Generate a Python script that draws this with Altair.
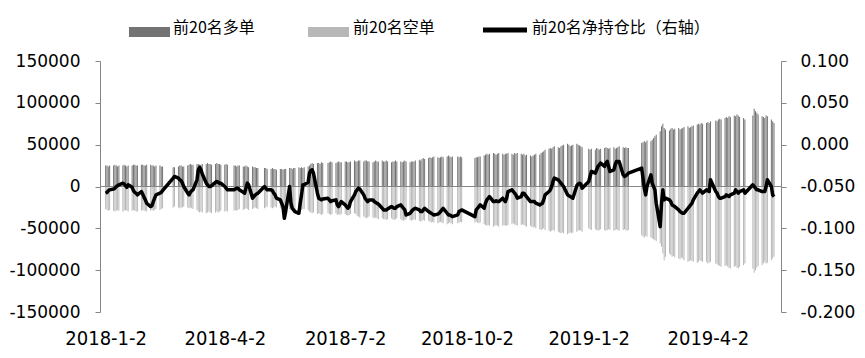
import altair as alt
import pandas as pd

# Trading days shown (month, days)
MONTH_DAYS = [
    ("2018-01", [2, 3, 4, 5, 8, 9, 10, 11, 12, 15, 16, 17, 18, 19, 22, 23, 24, 25, 26, 29, 30, 31]),
    ("2018-02", [1, 2, 5, 6, 7, 8, 9, 12, 13, 14, 22, 23, 26, 27, 28]),
    ("2018-03", [1, 2, 5, 6, 7, 8, 9, 12, 13, 14, 15, 16, 19, 20, 21, 22, 23, 26, 27, 28, 29, 30]),
    ("2018-04", [2, 3, 4, 9, 10, 11, 12, 13, 16, 17, 18, 19, 20, 23, 24, 25, 26, 27]),
    ("2018-05", [2, 3, 4, 7, 8, 9, 10, 11, 14, 15, 16, 17, 18, 21, 22, 23, 24, 25, 28, 29, 30, 31]),
    ("2018-06", [1, 4, 5, 6, 7, 8, 11, 12, 13, 14, 15, 19, 20, 21, 22, 25, 26, 27, 28, 29]),
    ("2018-07", [2, 3, 4, 5, 6, 9, 10, 11, 12, 13, 16, 17, 18, 19, 20, 23, 24, 25, 26, 27, 30, 31]),
    ("2018-08", [1, 2, 3, 6, 7, 8, 9, 10, 13, 14, 15, 16, 17, 20, 21, 22, 23, 24, 27, 28, 29, 30, 31]),
    ("2018-09", [3, 4, 5, 6, 7, 10, 11, 12, 13, 14, 17, 18, 19, 20, 21, 25, 26, 27, 28]),
    ("2018-10", [8, 9, 10, 11, 12, 15, 16, 17, 18, 19, 22, 23, 24, 25, 26, 29, 30, 31]),
    ("2018-11", [1, 2, 5, 6, 7, 8, 9, 12, 13, 14, 15, 16, 19, 20, 21, 22, 23, 26, 27, 28, 29, 30]),
    ("2018-12", [3, 4, 5, 6, 7, 10, 11, 12, 13, 14, 17, 18, 19, 20, 21, 24, 25, 26, 27, 28]),
    ("2019-01", [2, 3, 4, 7, 8, 9, 10, 11, 14, 15, 16, 17, 18, 21, 22, 23, 24, 25, 28, 29, 30, 31]),
    ("2019-02", [1, 11, 12, 13, 14, 15, 18, 19, 20, 21, 22, 25, 26, 27, 28]),
    ("2019-03", [1, 4, 5, 6, 7, 8, 11, 12, 13, 14, 15, 18, 19, 20, 21, 22, 25, 26, 27, 28, 29]),
    ("2019-04", [1, 2, 3, 4, 8, 9, 10, 11, 12, 15, 16, 17, 18, 19, 22, 23, 24, 25, 26, 29, 30]),
    ("2019-05", [6, 7, 8, 9, 10, 13, 14, 15, 16, 17, 20, 21, 22]),
]

# Top-20 long positions (thousand lots), one value per trading day
LONG_K = [
    25, 25, 24, 25, 25, 26, 25, 24, 25, 25, 26, 25, 24, 25, 25, 26, 26, 25, 25, 26, 26, 25,
    25, 26, 26, 25, 25, 24, 25, 25, 24, 24, 23, 23, 24, 25, 25,
    24, 24, 25, 26, 27, 26, 26, 27, 27, 26, 26, 27, 27, 28, 27, 27, 26, 27, 28, 27, 27, 26,
    26, 27, 26, 25, 25, 24, 25, 25, 24, 24, 25, 24, 23, 24, 23, 23, 22, 22,
    22, 22, 21, 21, 22, 21, 21, 20, 21, 21, 20, 21, 21, 22, 22, 21, 22, 22, 23, 22, 23, 22,
    23, 24, 25, 27, 28, 27, 28, 28, 27, 29, 28, 28, 29, 30, 29, 28, 29, 30, 29, 29,
    30, 30, 29, 29, 30, 31, 30, 30, 31, 31, 30, 31, 31, 30, 30, 29, 30, 31, 30, 30, 31, 30,
    30, 31, 30, 29, 30, 30, 31, 30, 30, 29, 30, 31, 30, 29, 30, 30, 30, 31, 32, 31, 33, 34, 33,
    34, 35, 34, 35, 36, 35, 34, 35, 36, 35, 36, 37, 36, 35, 36, 36, 35, 36, 35,
    34, 35, 35, 36, 36, 37, 38, 39, 38, 39, 40, 39, 38, 39, 40, 39, 38, 39,
    39, 40, 39, 38, 40, 39, 40, 39, 38, 39, 37, 38, 37, 36, 37, 38, 39, 38, 40, 41, 42, 44,
    45, 46, 45, 47, 48, 47, 46, 48, 49, 50, 51, 50, 48, 49, 50, 51, 50, 49, 48, 47,
    45, 44, 45, 44, 46, 45, 44, 45, 46, 47, 46, 45, 46, 47, 45, 46, 47, 48, 47, 46, 47, 46,
    46, 52, 53, 54, 53, 55, 54, 56, 58, 60, 62, 66, 72, 75, 70,
    68, 67, 69, 70, 68, 69, 70, 68, 69, 70, 71, 72, 70, 71, 72, 73, 74, 75, 74, 76, 75,
    76, 77, 76, 78, 79, 78, 80, 81, 80, 82, 83, 82, 84, 83, 85, 84, 86, 85, 83, 82, 80,
    85, 93, 90, 88, 86, 84, 83, 82, 85, 84, 80, 78, 76,
]

# Top-20 short positions (thousand lots, negative)
SHORT_K = [
    -27, -28, -29, -28, -29, -30, -29, -28, -29, -30, -29, -28, -29, -30, -29, -28, -29, -30, -30, -29, -28, -29,
    -29, -30, -29, -28, -29, -28, -27, -28, -27, -26, -25, -24, -25, -26, -25,
    -25, -24, -25, -26, -25, -26, -27, -28, -30, -31, -30, -31, -32, -31, -30, -31, -32, -31, -30, -31, -30, -29,
    -30, -29, -30, -29, -28, -29, -28, -27, -28, -27, -26, -27, -28, -27, -26, -25, -26, -27,
    -26, -25, -24, -25, -26, -25, -24, -25, -26, -27, -28, -29, -28, -27, -28, -29, -28, -29, -30, -29, -28, -27,
    -27, -28, -30, -31, -32, -31, -33, -32, -33, -34, -33, -32, -33, -34, -33, -32, -34, -33, -34, -33,
    -33, -34, -35, -34, -33, -32, -33, -35, -36, -37, -36, -37, -38, -37, -36, -37, -38, -37, -38, -39, -38, -39,
    -39, -40, -39, -38, -39, -40, -39, -38, -39, -40, -41, -40, -39, -40, -41, -40, -39, -40, -41, -42, -41, -40, -41,
    -41, -42, -43, -42, -43, -44, -43, -42, -43, -44, -45, -44, -43, -44, -45, -44, -43, -42, -43,
    -43, -42, -43, -44, -43, -45, -46, -47, -46, -47, -48, -47, -46, -47, -48, -47, -46, -47,
    -47, -46, -45, -44, -45, -46, -47, -46, -45, -46, -47, -48, -47, -48, -49, -48, -50, -51, -52, -51, -50, -52,
    -53, -54, -53, -52, -53, -54, -55, -56, -55, -56, -57, -56, -55, -56, -55, -54, -53, -52, -53, -54,
    -50, -51, -52, -51, -52, -53, -52, -51, -52, -53, -52, -51, -52, -53, -52, -51, -52, -53, -52, -51, -52, -53,
    -52, -58, -60, -61, -59, -60, -61, -62, -63, -64, -65, -68, -72, -80, -88,
    -84, -80, -82, -84, -83, -85, -86, -87, -85, -86, -88, -90, -89, -88, -89, -90, -91, -90, -88, -89, -90,
    -90, -92, -91, -90, -92, -93, -94, -95, -96, -95, -94, -96, -97, -98, -96, -95, -97, -98, -96, -94, -92,
    -98, -103, -100, -97, -95, -94, -92, -90, -92, -91, -88, -86, -84,
]

# Net position ratio (right axis)
NET_RATIO = [
    -0.058, -0.057, -0.055, -0.054, -0.053, -0.052, -0.050, -0.049, -0.048, -0.046, -0.047, -0.049, -0.051, -0.048, -0.051, -0.055, -0.057, -0.058, -0.060, -0.056, -0.059, -0.063,
    -0.066, -0.070, -0.074, -0.073, -0.068, -0.064, -0.060, -0.058, -0.057, -0.055, -0.040, -0.038, -0.040, -0.042, -0.043,
    -0.046, -0.050, -0.058, -0.060, -0.057, -0.055, -0.054, -0.042, -0.030, -0.027, -0.030, -0.035, -0.046, -0.048, -0.050, -0.050, -0.049, -0.045, -0.044, -0.045, -0.046, -0.046,
    -0.050, -0.052, -0.054, -0.054, -0.053, -0.052, -0.052, -0.054, -0.057, -0.058, -0.052, -0.046, -0.048, -0.064, -0.062, -0.060, -0.059, -0.058,
    -0.050, -0.052, -0.054, -0.054, -0.055, -0.058, -0.060, -0.064, -0.066, -0.070, -0.074, -0.088, -0.080, -0.050, -0.070, -0.076, -0.078, -0.080, -0.082, -0.070, -0.060, -0.048,
    -0.048, -0.045, -0.034, -0.031, -0.030, -0.034, -0.058, -0.064, -0.065, -0.066, -0.065, -0.064, -0.066, -0.068, -0.067, -0.066, -0.072, -0.074, -0.071, -0.068,
    -0.072, -0.074, -0.076, -0.074, -0.068, -0.060, -0.056, -0.054, -0.052, -0.053, -0.060, -0.064, -0.066, -0.068, -0.066, -0.066, -0.068, -0.069, -0.070, -0.071, -0.076, -0.078,
    -0.078, -0.078, -0.077, -0.074, -0.075, -0.076, -0.076, -0.074, -0.072, -0.074, -0.076, -0.078, -0.084, -0.082, -0.080, -0.078, -0.077, -0.076, -0.078, -0.080, -0.080, -0.078, -0.076,
    -0.080, -0.081, -0.082, -0.083, -0.084, -0.083, -0.082, -0.080, -0.078, -0.076, -0.082, -0.084, -0.084, -0.085, -0.086, -0.084, -0.080, -0.079, -0.078,
    -0.086, -0.078, -0.076, -0.074, -0.072, -0.076, -0.070, -0.066, -0.064, -0.062, -0.068, -0.068, -0.067, -0.068, -0.068, -0.064, -0.066, -0.068,
    -0.064, -0.056, -0.054, -0.056, -0.058, -0.060, -0.064, -0.062, -0.058, -0.058, -0.060, -0.062, -0.068, -0.068, -0.068, -0.068, -0.070, -0.072, -0.071, -0.070, -0.066, -0.060,
    -0.056, -0.054, -0.050, -0.044, -0.040, -0.042, -0.044, -0.046, -0.048, -0.050, -0.060, -0.061, -0.062, -0.063, -0.064, -0.049, -0.047, -0.046, -0.047, -0.052,
    -0.044, -0.038, -0.032, -0.034, -0.030, -0.026, -0.024, -0.022, -0.026, -0.022, -0.020, -0.026, -0.032, -0.030, -0.024, -0.020, -0.020, -0.020, -0.036, -0.038, -0.037, -0.036,
    -0.034, -0.028, -0.040, -0.052, -0.060, -0.050, -0.036, -0.046, -0.050, -0.054, -0.070, -0.098, -0.070, -0.054, -0.066,
    -0.064, -0.066, -0.068, -0.072, -0.073, -0.074, -0.078, -0.080, -0.081, -0.082, -0.082, -0.076, -0.074, -0.072, -0.070, -0.066, -0.058, -0.056, -0.054, -0.056, -0.058,
    -0.054, -0.055, -0.056, -0.042, -0.056, -0.058, -0.062, -0.064, -0.064, -0.062, -0.060, -0.061, -0.062, -0.060, -0.058, -0.054, -0.056, -0.058, -0.056, -0.054, -0.058,
    -0.048, -0.050, -0.052, -0.054, -0.054, -0.056, -0.056, -0.056, -0.050, -0.042, -0.050, -0.060, -0.062,
]

LEGEND_LABELS = ["前20名多单", "前20名空单", "前20名净持仓比（右轴）"]
LEFT_TICKS = [-150000, -100000, -50000, 0, 50000, 100000, 150000]
RIGHT_TICKS = [-0.2, -0.15, -0.1, -0.05, 0.0, 0.05, 0.1]
X_TICKS = [(2018, 1, 2), (2018, 4, 2), (2018, 7, 2), (2018, 10, 2), (2019, 1, 2), (2019, 4, 2)]

dates = [f"{m}-{d:02d}" for m, ds in MONTH_DAYS for d in ds]
assert len(dates) == len(LONG_K) == len(SHORT_K) == len(NET_RATIO), (len(dates), len(LONG_K), len(SHORT_K), len(NET_RATIO))

df = pd.DataFrame({
    "date": dates,
    "long": [v * 1000 for v in LONG_K],
    "short": [v * 1000 for v in SHORT_K],
    "ratio": NET_RATIO,
})

AXIS_GRAY = "#868686"
LONG_COLOR = "#737373"
SHORT_COLOR = "#b8b8b8"
NUM_FONT = "DejaVu Sans"
CJK_FONT = "Noto Sans CJK SC"

x_enc = alt.X(
    "date:T",
    scale=alt.Scale(
        type="utc",
        domain=[alt.DateTime(year=2018, month=1, date=1, hours=12, utc=True),
                alt.DateTime(year=2019, month=5, date=23, hours=12, utc=True)],
    ),
    axis=alt.Axis(
        values=[alt.DateTime(year=y, month=m, date=d, utc=True) for y, m, d in X_TICKS],
        labelExpr="utcFormat(datum.value, '%Y-%-m-%-d')", title=None, grid=False,
        domain=False, ticks=False, tickSize=0, labelPadding=16, labelAngle=0,
        labelFlush=False, labelOverlap=False,
        labelFont="Liberation Sans Narrow, DejaVu Sans Condensed, Roboto Condensed, sans-serif",
        labelFontSize=20, labelColor="#000000",
    ),
)

left_scale = alt.Scale(domain=[-150000, 150000], nice=False, zero=True)
left_axis = alt.Axis(
    values=LEFT_TICKS, format="d", labelExpr="replace(datum.label, '\u2212', '-')",
    title=None, grid=False, domainColor=AXIS_GRAY, tickColor=AXIS_GRAY, tickSize=5,
    labelPadding=15, labelFont=NUM_FONT, labelFontSize=17, labelColor="#000000",
)
right_axis = alt.Axis(
    orient="right", values=RIGHT_TICKS, format=".3f", labelExpr="replace(datum.label, '\u2212', '-')",
    title=None, grid=False, domainColor=AXIS_GRAY, tickColor=AXIS_GRAY, tickSize=5,
    labelPadding=14, labelFont=NUM_FONT, labelFontSize=17, labelColor="#000000",
)

long_bars = alt.Chart(df).mark_bar(size=1, color=LONG_COLOR).encode(
    x=x_enc, y=alt.Y("long:Q", scale=left_scale, axis=left_axis)
)
short_bars = alt.Chart(df).mark_bar(size=1, color=SHORT_COLOR).encode(
    x=x_enc, y=alt.Y("short:Q", scale=left_scale, axis=left_axis)
)
zero_rule = alt.Chart(pd.DataFrame({"zero": [0]})).mark_rule(color=AXIS_GRAY, strokeWidth=1).encode(
    y=alt.Y("zero:Q", scale=left_scale, axis=left_axis)
)
left_layer = alt.layer(long_bars, short_bars, zero_rule)

ratio_line = alt.Chart(df).mark_line(color="#000000", strokeWidth=3.5, strokeJoin="round").encode(
    x=x_enc,
    y=alt.Y("ratio:Q", scale=alt.Scale(domain=[-0.2, 0.1], nice=False, zero=False), axis=right_axis),
)

one = pd.DataFrame({"k": [0]})
leg_long = alt.Chart(one).mark_rect(color=LONG_COLOR).encode(
    x=alt.value(29), x2=alt.value(70), y=alt.value(-34), y2=alt.value(-24))
leg_short = alt.Chart(one).mark_rect(color=SHORT_COLOR).encode(
    x=alt.value(208), x2=alt.value(249), y=alt.value(-34), y2=alt.value(-24))
leg_line = alt.Chart(one).mark_rule(color="#000000", strokeWidth=5).encode(
    x=alt.value(383), x2=alt.value(427), y=alt.value(-31))
text_props = dict(font=CJK_FONT, fontSize=16, color="#000000", align="left", baseline="middle")
leg_t1 = alt.Chart(one).mark_text(**text_props).encode(
    x=alt.value(73), y=alt.value(-33), text=alt.value(LEGEND_LABELS[0]))
leg_t2 = alt.Chart(one).mark_text(**text_props).encode(
    x=alt.value(253), y=alt.value(-33), text=alt.value(LEGEND_LABELS[1]))
leg_t3 = alt.Chart(one).mark_text(**text_props).encode(
    x=alt.value(432), y=alt.value(-33), text=alt.value(LEGEND_LABELS[2]))

chart = alt.layer(
    left_layer, ratio_line, leg_long, leg_short, leg_line, leg_t1, leg_t2, leg_t3
).resolve_scale(y="independent").properties(
    width=681, height=251,
    autosize=alt.AutoSizeParams(type="none"),
    padding={"left": 100, "top": 61, "right": 84, "bottom": 46},
    background="#ffffff",
).configure_view(strokeWidth=0)

chart.save("out.html", embed_options={"renderer": "svg", "actions": False})
